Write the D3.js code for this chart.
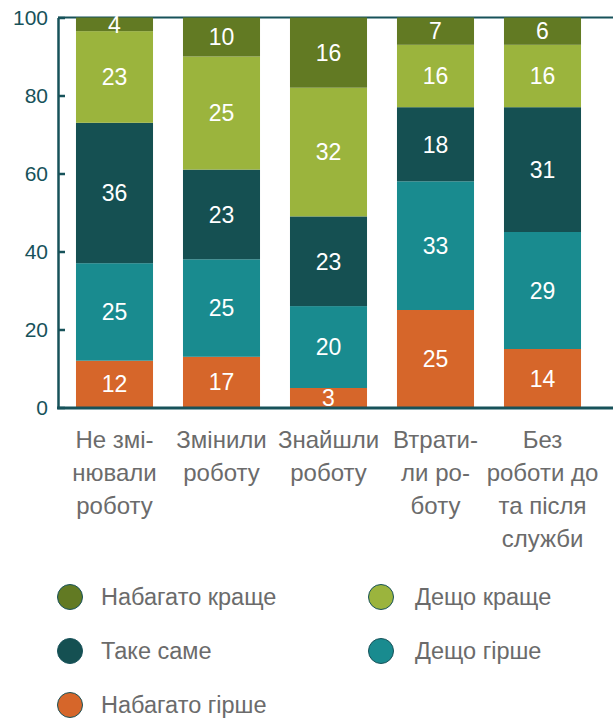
<!DOCTYPE html>
<html>
<head>
<meta charset="utf-8">
<script src="https://cdn.jsdelivr.net/npm/d3@7"></script>
<style>
  body { margin: 0; background: #fff; }
  text { font-family: "Liberation Sans", Arial, sans-serif; }
</style>
</head>
<body>
<div id="chart"></div>
<script>
// Categories (line breaks as in the original)
const categories = [
    "Не змі-\nнювали\nроботу",
    "Змінили\nроботу",
    "Знайшли\nроботу",
    "Втрати-\nли ро-\nботу",
    "Без\nроботи до\nта після\nслужби"
];

// Series, bottom to top
const seriesNames = ["Набагато гірше", "Дещо гірше", "Таке саме", "Дещо краще", "Набагато краще"];

// Segment heights (%)
const muchWorse   = [12, 13, 5, 25, 15];
const bitWorse    = [25, 25, 21, 33, 30];
const same        = [36, 23, 23, 19, 32];
const bitBetter   = [23.5, 29, 33, 16, 16];
const muchBetter  = [3.5, 10, 18, 7, 7];

// Numbers printed inside the segments
const muchWorseLbl  = [12, 17, 3, 25, 14];
const bitWorseLbl   = [25, 25, 20, 33, 29];
const sameLbl       = [36, 23, 23, 18, 31];
const bitBetterLbl  = [23, 25, 32, 16, 16];
const muchBetterLbl = [4, 10, 16, 7, 6];

const yTicks = [0, 20, 40, 60, 80, 100];

// Legend order (two columns)
const legendOrder = ["Набагато краще", "Дещо краще", "Таке саме", "Дещо гірше", "Набагато гірше"];

const colors = {
    "Набагато гірше": "#d6662a",
    "Дещо гірше": "#198b8f",
    "Таке саме": "#155052",
    "Дещо краще": "#9bb43d",
    "Набагато краще": "#627a23"
};

const values = [muchWorse, bitWorse, same, bitBetter, muchBetter];
const labels = [muchWorseLbl, bitWorseLbl, sameLbl, bitBetterLbl, muchBetterLbl];

const rows = categories.map((c, i) => {
    const row = { category: c };
    seriesNames.forEach((s, k) => { row[s] = values[k][i]; });
    return row;
});

const W = 615, H = 718;
const axisColor = "#17525a";
const textGray = "#6b6b6b";

const svg = d3.select("#chart").append("svg")
    .attr("width", W)
    .attr("height", H);

const x = d3.scaleBand()
    .domain(categories)
    .range([61, 596])
    .paddingInner(0.28)
    .paddingOuter(0.14);

const y = d3.scaleLinear()
    .domain([0, 100])
    .range([407.5, 17.5]);

const stacked = d3.stack().keys(seriesNames)(rows);

// top line at 100
svg.append("line")
    .attr("x1", 58).attr("x2", 613)
    .attr("y1", y(100)).attr("y2", y(100))
    .attr("stroke", axisColor)
    .attr("stroke-width", 2);

// bars
const layers = svg.selectAll(".layer")
    .data(stacked)
    .enter()
    .append("g")
    .attr("class", "layer")
    .attr("fill", d => colors[d.key]);

layers.selectAll("rect")
    .data(d => d)
    .enter()
    .append("rect")
    .attr("x", d => x(d.data.category))
    .attr("y", d => y(d[1]))
    .attr("width", x.bandwidth())
    .attr("height", d => y(d[0]) - y(d[1]));

// value labels
layers.each(function(layer, k) {
    d3.select(this).selectAll("text")
        .data(layer)
        .enter()
        .append("text")
        .attr("x", d => x(d.data.category) + x.bandwidth() / 2)
        .attr("y", d => (y(d[0]) + y(d[1])) / 2)
        .attr("dy", "0.36em")
        .attr("text-anchor", "middle")
        .attr("fill", "#fff")
        .attr("font-size", "23px")
        .text((d, i) => labels[k][i]);
});

// y axis
const yAxis = svg.append("g")
    .attr("transform", "translate(58,0)")
    .call(d3.axisLeft(y).tickValues(yTicks).tickSizeInner(-7).tickSizeOuter(0).tickPadding(10));
yAxis.select(".domain").attr("stroke", axisColor).attr("stroke-width", 2.5);
yAxis.selectAll(".tick line").attr("stroke", axisColor).attr("stroke-width", 2.5);
yAxis.selectAll(".tick text")
    .attr("fill", axisColor)
    .attr("font-size", "21px");

// x axis line
svg.append("line")
    .attr("x1", 57).attr("x2", 613)
    .attr("y1", 408).attr("y2", 408)
    .attr("stroke", axisColor)
    .attr("stroke-width", 3);

// category labels
const catG = svg.append("g");
categories.forEach(c => {
    const t = catG.append("text")
        .attr("text-anchor", "middle")
        .attr("fill", textGray)
        .attr("font-size", "24px");
    c.split("\n").forEach((line, j) => {
        t.append("tspan")
            .attr("x", x(c) + x.bandwidth() / 2)
            .attr("y", 448 + j * 33)
            .text(line);
    });
});

// legend
const legend = svg.append("g");
const legendItems = legend.selectAll(".item")
    .data(legendOrder)
    .enter()
    .append("g")
    .attr("class", "item")
    .attr("transform", (d, i) => `translate(${i % 2 === 0 ? 70 : 381},${597 + Math.floor(i / 2) * 54})`);

legendItems.append("circle")
    .attr("r", 12.5)
    .attr("fill", d => colors[d])
    .attr("stroke", axisColor)
    .attr("stroke-width", 1);

legendItems.append("text")
    .attr("x", d => legendOrder.indexOf(d) % 2 === 0 ? 31 : 34)
    .attr("dy", "0.33em")
    .attr("fill", textGray)
    .attr("font-size", "23.5px")
    .text(d => d);
</script>
</body>
</html>
